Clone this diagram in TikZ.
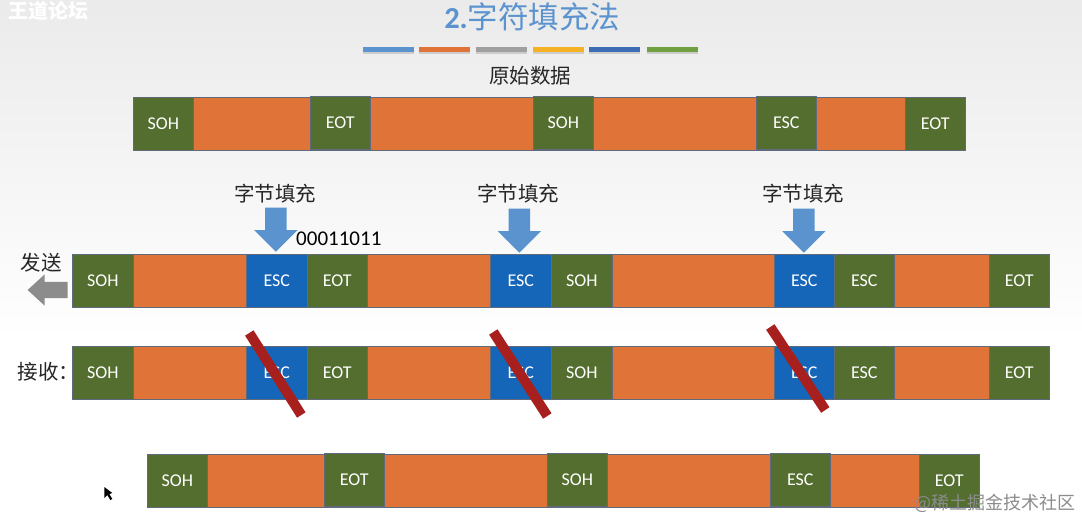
\documentclass[tikz,border=0pt]{standalone}
\usepackage{fontspec}
\setmainfont{Carlito}
\newfontfamily\cjk{Noto Sans CJK SC}
\usetikzlibrary{shapes.arrows,shadows}

\tikzset{
	field/.style={shape=rectangle,draw=fieldline,line width=.6pt,inner sep=0pt,minimum height=53pt,text=white,font=\fontsize{18}{18}\selectfont},
	ctrl/.style={field,fill=ctlgreen},
	esc/.style={field,fill=escblue},
	body/.style={field,fill=bodyorange},
	hanzi/.style={inner sep=0pt,text=black!85,font=\cjk\fontsize{20.5}{20.5}\selectfont},
	strip/.style={shape=rectangle,inner sep=0pt,minimum width=51pt,minimum height=5.5pt,drop shadow={opacity=.3,shadow xshift=0pt,shadow yshift=-1.5pt}},
	slash/.style={-,line width=10pt,draw=slashred},
	addarrow/.style={shape=single arrow,fill=arrowblue,inner sep=0pt,inner ysep=10.5pt,minimum height=44pt,single arrow head extend=11pt,rotate=270,anchor=tip},
}
\definecolor{fieldline}{HTML}{5F6B7C}
\definecolor{ctlgreen}{HTML}{546E30}
\definecolor{escblue}{HTML}{1565B8}
\definecolor{bodyorange}{HTML}{E07438}
\definecolor{slashred}{HTML}{A8201E}
\definecolor{arrowblue}{HTML}{5B93CF}
\definecolor{stripgray}{HTML}{A0A0A0}
\definecolor{stripyellow}{HTML}{F5B225}
\definecolor{stripblue}{HTML}{3E6DB5}
\definecolor{stripgreen}{HTML}{70A040}

\begin{document}
\begin{tikzpicture}[x=1pt,y=-1pt]
	\useasboundingbox (0.7,0) rectangle (1082.7,521);
	\fill[white] (0,0) rectangle (1083,521);
	\shade[top color=black!8,middle color=black!5,bottom color=white] (0,0) rectangle (1083,340);

	\node[inner sep=0pt,text=white,font=\cjk\bfseries\fontsize{20}{20}\selectfont] (W) at (49,11) {王道论坛};
	\node[inner sep=0pt] (T) at (533,17) {\fontsize{30.5}{30.5}\selectfont\color{arrowblue}\textbf{2.}{\cjk 字符填充法}};

	% colour strips
	\node[strip,fill=arrowblue] (S1) at (389.5,49.5) {};
	\node[strip,fill=bodyorange] (S2) at (445.5,49.5) {};
	\node[strip,fill=stripgray] (S3) at (502.5,49.5) {};
	\node[strip,fill=stripyellow] (S4) at (559.5,49.5) {};
	\node[strip,fill=stripblue] (S5) at (615.5,49.5) {};
	\node[strip,fill=stripgreen] (S6) at (673.5,49.5) {};

	\node[hanzi] (L1) at (531,76) {原始数据};

	% original data
	\node[body,minimum width=832pt] (A0) at (550,123.5) {};
	\node[ctrl,minimum width=60pt] (A1) at (164,123.5) {SOH};
	\node[ctrl,minimum width=60pt] (A2) at (341,122.5) {EOT};
	\node[ctrl,minimum width=60pt] (A3) at (564,122.5) {SOH};
	\node[ctrl,minimum width=60pt] (A4) at (787,122.5) {ESC};
	\node[ctrl,minimum width=60pt] (A5) at (936,123.5) {EOT};

	% sent
	\node[body,minimum width=977pt] (B0) at (561.5,280.5) {};
	\node[ctrl,minimum width=61pt] (B1) at (103.5,280.5) {SOH};
	\node[esc,minimum width=61pt] (B2) at (277.5,280.5) {ESC};
	\node[ctrl,minimum width=60pt] (B3) at (338,280.5) {EOT};
	\node[esc,minimum width=61pt] (B4) at (521.5,280.5) {ESC};
	\node[ctrl,minimum width=61pt] (B5) at (582.5,280.5) {SOH};
	\node[esc,minimum width=60pt] (B6) at (805,280.5) {ESC};
	\node[ctrl,minimum width=60pt] (B7) at (865,280.5) {ESC};
	\node[ctrl,minimum width=60pt] (B8) at (1020,280.5) {EOT};

	% received
	\node[body,minimum width=977pt] (C0) at (561.5,372.5) {};
	\node[ctrl,minimum width=61pt] (C1) at (103.5,372.5) {SOH};
	\node[esc,minimum width=61pt] (C2) at (277.5,372.5) {ESC};
	\node[ctrl,minimum width=60pt] (C3) at (338,372.5) {EOT};
	\node[esc,minimum width=61pt] (C4) at (521.5,372.5) {ESC};
	\node[ctrl,minimum width=61pt] (C5) at (582.5,372.5) {SOH};
	\node[esc,minimum width=60pt] (C6) at (805,372.5) {ESC};
	\node[ctrl,minimum width=60pt] (C7) at (865,372.5) {ESC};
	\node[ctrl,minimum width=60pt] (C8) at (1020,372.5) {EOT};

	% restored
	\node[body,minimum width=832pt] (D0) at (564,480.5) {};
	\node[ctrl,minimum width=60pt] (D1) at (178,480.5) {SOH};
	\node[ctrl,minimum width=60pt] (D2) at (355,479.5) {EOT};
	\node[ctrl,minimum width=60pt] (D3) at (578,479.5) {SOH};
	\node[ctrl,minimum width=60pt] (D4) at (801,479.5) {ESC};
	\node[ctrl,minimum width=60pt] (D5) at (950,480.5) {EOT};

	\node[hanzi] (F1) at (276,194) {字节填充};
	\node[hanzi] (F2) at (519,194) {字节填充};
	\node[hanzi] (F3) at (804,194) {字节填充};
	\node[addarrow] (P1) at (276.5,252) {};
	\node[addarrow] (P2) at (520,253) {};
	\node[addarrow] (P3) at (804.5,253) {};
	\node[inner sep=0pt,font=\fontsize{21}{21}\selectfont] (N) at (339.5,239) {00011011};

	\node[hanzi] (SD) at (42,263) {发送};
	\node[shape=single arrow,fill=black!45,inner sep=0pt,inner ysep=8pt,minimum height=40pt,single arrow head extend=7.5pt,single arrow tip angle=85,shape border rotate=180,anchor=tip] (G) at (28,290) {};
	\node[hanzi] (RV) at (49,372) {接收：};

	% struck out bytes
	\coordinate (X1) at (250,333);
	\coordinate (Y1) at (302,415);
	\coordinate (X2) at (494,332);
	\coordinate (Y2) at (548,416);
	\coordinate (X3) at (771,327);
	\coordinate (Y3) at (826,410);
	\path [slash] (X1) edge (Y1);
	\path [slash] (X2) edge (Y2);
	\path [slash] (X3) edge (Y3);

	% cursor
	\fill[black] (105,487) -- (105,498) -- (108,495) -- (111,500) -- (113,499) -- (110,494) -- (113,493) -- cycle;

	\node[inner sep=0pt,text=black!45,font=\cjk\fontsize{18}{18}\selectfont] (M) at (996,503) {@稀土掘金技术社区};
\end{tikzpicture}
\end{document}
